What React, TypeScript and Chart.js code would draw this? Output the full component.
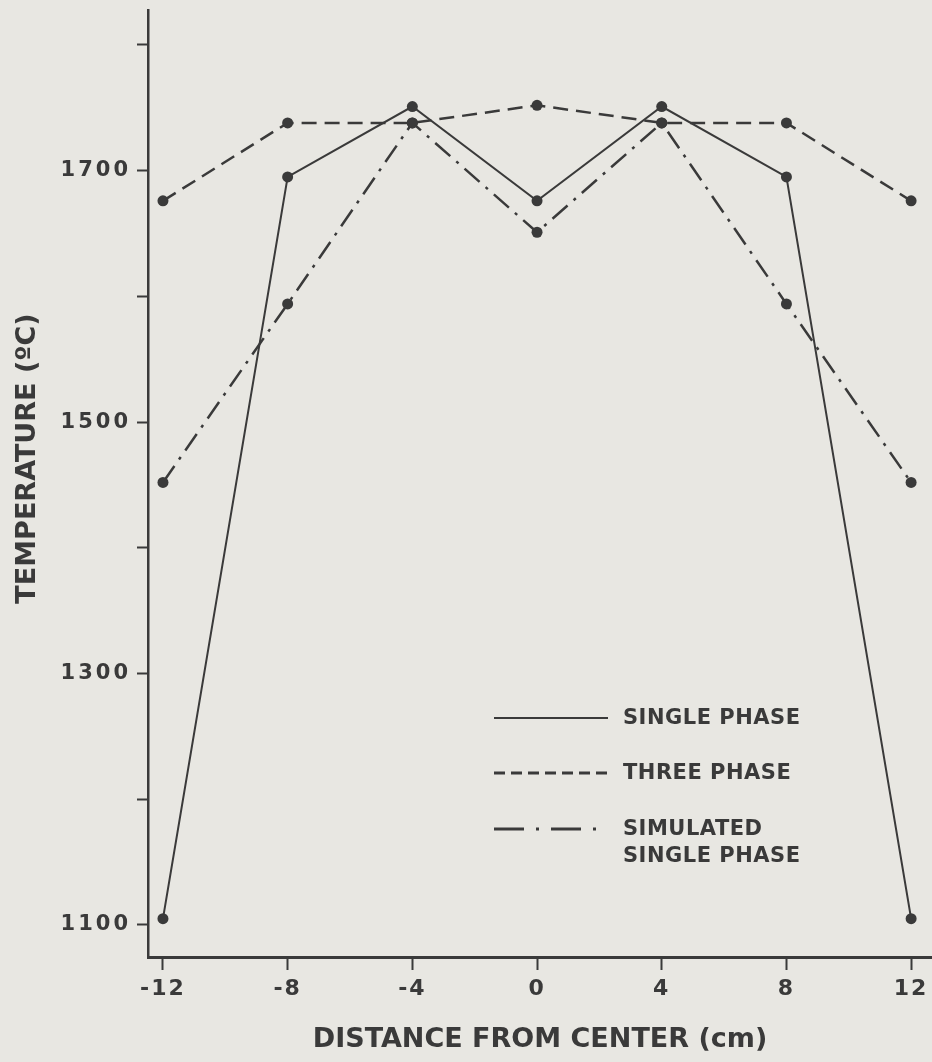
import React, { useEffect, useRef } from "react";
import { Chart, registerables } from "chart.js";

Chart.register(...registerables);

const positions = [-12, -8, -4, 0, 4, 8, 12];
const singlePhase = [1105, 1695, 1751, 1676, 1751, 1695, 1105];
const threePhase = [1676, 1738, 1738, 1752, 1738, 1738, 1676];
const simulatedSinglePhase = [1452, 1594, 1738, 1651, 1738, 1594, 1452];
const yLabelValues = [1100, 1300, 1500, 1700];
const legendLabels = [["SINGLE PHASE"], ["THREE PHASE"], ["SIMULATED", "SINGLE PHASE"]];

const INK = "#3a3a3a";
const PAPER = "#e8e7e2";
const FONT = "'DejaVu Sans', 'Liberation Sans', sans-serif";

const toPoints = (ys: number[]) => positions.map((x, i) => ({ x, y: ys[i] }));

const bgPlugin = {
  id: "paper",
  beforeDraw(chart: any) {
    const { ctx, width, height } = chart;
    ctx.save();
    ctx.fillStyle = PAPER;
    ctx.fillRect(0, 0, width, height);
    ctx.restore();
  },
};

// wider letter spacing for tick labels, and the y title set a little above centre, as in the printed original
const scaleStylePlugin = {
  id: "scaleStyle",
  afterLayout(chart: any) {
    const spacing: Record<string, string> = { x: "2px", y: "3px" };
    Object.keys(spacing).forEach((id) => {
      const scale = chart.scales[id];
      if (!scale || scale.__wrapped) return;
      const origLabels = scale.drawLabels;
      scale.drawLabels = function (area: any) {
        const ctx = this.ctx;
        ctx.save();
        (ctx as any).letterSpacing = spacing[id];
        origLabels.call(this, area);
        ctx.restore();
      };
      if (id === "y") {
        const origTitle = scale.drawTitle;
        scale.drawTitle = function () {
          const ctx = this.ctx;
          ctx.save();
          ctx.translate(0, -25);
          origTitle.call(this);
          ctx.restore();
        };
      }
      scale.__wrapped = true;
    });
  },
};

const legendPlugin = {
  id: "customLegend",
  afterDraw(chart: any) {
    const { ctx, chartArea } = chart;
    const x0 = chartArea.left + 346;
    const x1 = x0 + 114;
    const tx = x1 + 15;
    const rows = [chartArea.top + 708, chartArea.top + 763, chartArea.top + 819];
    const dashes = [[], [11, 6], [30, 12, 3, 12]];
    ctx.save();
    chart.data.datasets.forEach((ds: any, i: number) => {
      const y = rows[i];
      ctx.strokeStyle = INK;
      ctx.lineWidth = i === 0 ? 2 : 3;
      ctx.setLineDash(dashes[i]);
      ctx.beginPath();
      ctx.moveTo(x0, y);
      ctx.lineTo(x1, y);
      ctx.stroke();
      ctx.setLineDash([]);
      ctx.fillStyle = INK;
      ctx.font = `bold 21px ${FONT}`;
      (ctx as any).letterSpacing = "0.5px";
      ctx.textBaseline = "middle";
      ctx.textAlign = "left";
      legendLabels[i].forEach((line, j) => {
        ctx.fillText(line, tx, y + 1 + j * 27);
      });
    });
    ctx.restore();
  },
};

export default function App() {
  const ref = useRef<HTMLCanvasElement>(null);
  useEffect(() => {
    if (!ref.current) return;
    const common = {
      borderColor: INK,
      backgroundColor: INK,
      pointBackgroundColor: INK,
      pointBorderWidth: 0,
      pointRadius: 5.5,
      borderWidth: 2,
      tension: 0,
      showLine: true,
      clip: false as any,
    };
    const chart = new Chart(ref.current, {
      type: "scatter",
      data: {
        datasets: [
          { ...common, label: "SINGLE PHASE", data: toPoints(singlePhase) },
          { ...common, label: "THREE PHASE", data: toPoints(threePhase), borderDash: [15, 8], borderWidth: 2.5 },
          { ...common, label: "SIMULATED SINGLE PHASE", data: toPoints(simulatedSinglePhase), borderDash: [20, 8, 3, 8], borderWidth: 2.5 },
        ],
      },
      options: {
        animation: false,
        responsive: false,
        layout: { autoPadding: false, padding: { top: 10, left: 0, right: 0, bottom: 0 } },
        plugins: { legend: { display: false }, tooltip: { enabled: false } },
        scales: {
          x: {
            type: "linear",
            min: -12.48,
            max: 12.67,
            afterFit: (s: any) => {
              s.height = 105;
              s.paddingLeft = 0;
              s.paddingRight = 0;
            },
            ticks: {
              stepSize: 4,
              includeBounds: false,
              color: INK,
              padding: 6,
              font: { family: FONT, weight: "bold", size: 22 },
              callback: (v: any) => String(v),
              maxRotation: 0,
            },
            grid: { drawOnChartArea: false, drawTicks: true, tickLength: 13, tickColor: INK, tickWidth: 2 },
            border: { display: true, color: INK, width: 3 },
            title: {
              display: true,
              text: "DISTANCE FROM CENTER (cm)",
              color: INK,
              font: { family: FONT, weight: "bold", size: 27 },
              padding: { top: 0, bottom: 6 },
            },
          },
          y: {
            type: "linear",
            min: 1074.5,
            max: 1827.8,
            afterFit: (s: any) => {
              s.width = 148;
              s.paddingTop = 0;
              s.paddingBottom = 0;
            },
            ticks: {
              stepSize: 100,
              includeBounds: false,
              color: INK,
              padding: 6,
              font: { family: FONT, weight: "bold", size: 21 },
              callback: (v: any) => (yLabelValues.includes(Math.round(v)) ? String(Math.round(v)) : ""),
            },
            grid: { drawOnChartArea: false, drawTicks: true, tickLength: 11, tickColor: INK, tickWidth: 2 },
            border: { display: true, color: INK, width: 2.5 },
            title: {
              display: true,
              text: "TEMPERATURE (ºC)",
              color: INK,
              font: { family: FONT, weight: "bold", size: 27 },
              padding: { top: 12, bottom: 0 },
            },
          },
        },
      },
      plugins: [bgPlugin, scaleStylePlugin, legendPlugin],
    });
    return () => chart.destroy();
  }, []);
  return (
    <div style={{ position: "absolute", left: 0, top: 0, width: 932, height: 1062 }}>
      <canvas ref={ref} width={932} height={1062} />
    </div>
  );
}
